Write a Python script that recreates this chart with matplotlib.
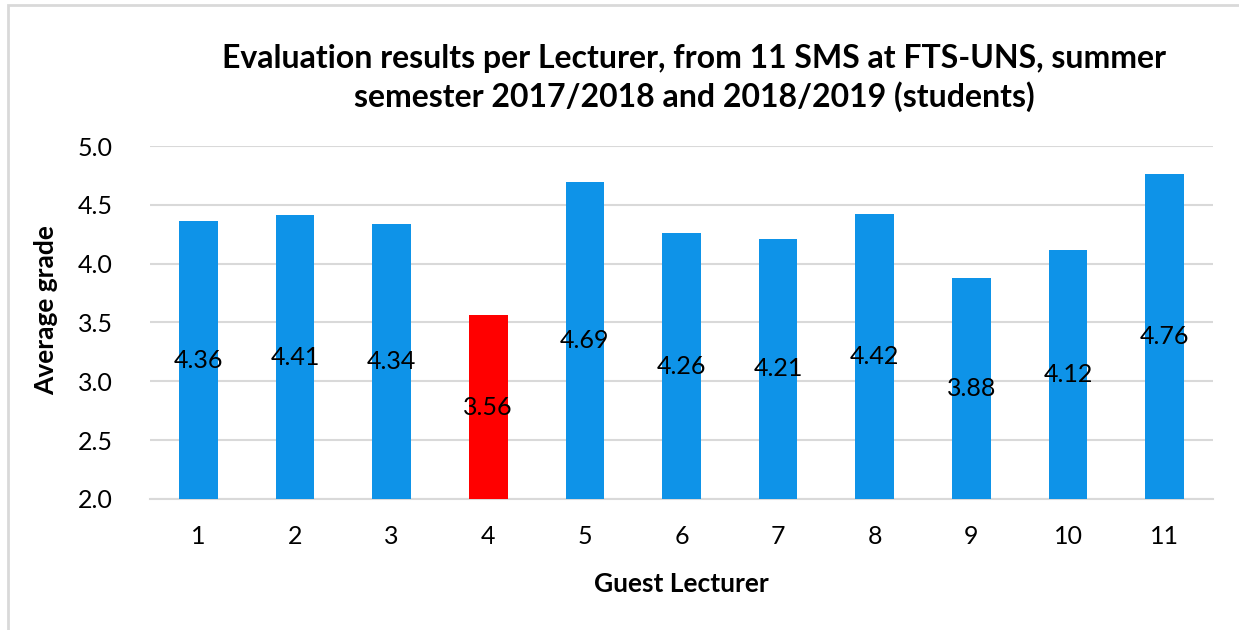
import matplotlib.pyplot as plt
from matplotlib.patches import Rectangle

# Evaluation results per guest lecturer
lecturers = ["1", "2", "3", "4", "5", "6", "7", "8", "9", "10", "11"]
grades = [4.36, 4.41, 4.34, 3.56, 4.69, 4.26, 4.21, 4.42, 3.88, 4.12, 4.76]
highlight = "4"

blue = "#0E93E8"
red = "#FF0000"
grid_col = "#D9D9D9"

plt.rcParams["font.family"] = ["Lato", "DejaVu Sans"]

fig = plt.figure(figsize=(12.39, 6.30), dpi=100)
ax = fig.add_axes([150 / 1239, 1 - 499 / 630, (1213 - 150) / 1239, (499 - 146) / 630])

colors = [red if l == highlight else blue for l in lecturers]
x = range(len(lecturers))
bars = ax.bar(x, [g - 2.0 for g in grades], bottom=2.0, width=0.4, color=colors, zorder=3)

# data labels centred in the bars
for b, g in zip(bars, grades):
    ax.text(b.get_x() + b.get_width() / 2, (2.0 + g) / 2, f"{g:.2f}",
            ha="center", va="center", fontsize=18, color="black", zorder=4)

ax.set_xlim(-0.5, len(lecturers) - 0.5)
ax.set_ylim(2.0, 5.0)
ax.set_yticks([2.0, 2.5, 3.0, 3.5, 4.0, 4.5, 5.0])
ax.set_yticklabels([f"{v:.1f}" for v in ax.get_yticks()])
ax.set_xticks(list(x))
ax.set_xticklabels(lecturers)
ax.tick_params(axis="both", length=0, labelsize=18)
ax.tick_params(axis="y", pad=27)
ax.tick_params(axis="x", pad=19)
ax.yaxis.grid(True, color=grid_col, linewidth=1.5, zorder=0)
for s in ["top", "right", "left"]:
    ax.spines[s].set_visible(False)
ax.spines["bottom"].set_color(grid_col)
ax.spines["bottom"].set_linewidth(1.5)

ax.set_xlabel("Guest Lecturer", fontsize=19, fontweight="bold", va="center")
ax.xaxis.set_label_coords(0.5, (499 - 584) / 353)
ax.set_ylabel("Average grade", fontsize=19, fontweight="bold", va="center")
ax.yaxis.set_label_coords((46 - 150) / 1063, (499 - 310) / 353)

fig.text(694 / 1239, 1 - 78 / 630,
         "Evaluation results per Lecturer, from 11 SMS at FTS-UNS, summer\nsemester 2017/2018 and 2018/2019 (students)",
         ha="center", va="center", fontsize=23, fontweight="bold", linespacing=1.3)

# light chart border (cropped at right and bottom)
fig.patches.append(Rectangle((8 / 1239, -0.1), 1.2, 1 - 5 / 630 + 0.1,
                             transform=fig.transFigure, fill=False,
                             edgecolor=grid_col, linewidth=2))

plt.savefig("out.png", dpi=100)
